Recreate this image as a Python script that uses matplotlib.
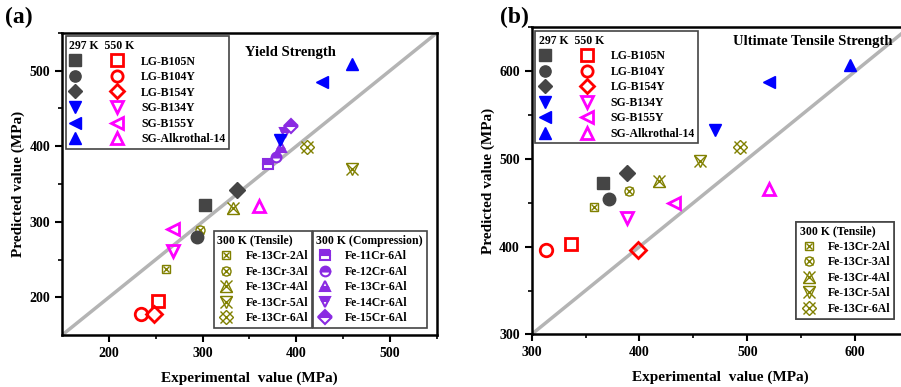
import numpy as np
import matplotlib
matplotlib.use("Agg")
import matplotlib.pyplot as plt
from matplotlib.legend_handler import HandlerTuple

plt.rcParams['font.family'] = 'Liberation Serif'
plt.rcParams['font.weight'] = 'bold'
plt.rcParams['axes.labelweight'] = 'bold'

# ---- data ----
names = ['LG-B105N', 'LG-B104Y', 'LG-B154Y', 'SG-B134Y', 'SG-B155Y', 'SG-Alkrothal-14']
tens_names = ['Fe-13Cr-2Al', 'Fe-13Cr-3Al', 'Fe-13Cr-4Al', 'Fe-13Cr-5Al', 'Fe-13Cr-6Al']
comp_names = ['Fe-11Cr-6Al', 'Fe-12Cr-6Al', 'Fe-13Cr-6Al', 'Fe-14Cr-6Al', 'Fe-15Cr-6Al']

# (a) yield strength
ys_exp_297 = [303, 294, 337, 383, 428, 459]
ys_pred_297 = [322, 280, 342, 408, 485, 509]
ys_exp_550 = [252, 234, 248, 268, 268, 360]
ys_pred_550 = [195, 178, 178, 262, 291, 321]
ys_tens_exp = [261, 297, 333, 460, 411]
ys_tens_pred = [237, 289, 318, 370, 399]
ys_comp_exp = [370, 378, 384, 388, 394]
ys_comp_pred = [377, 386, 399, 418, 427]

# (b) ultimate tensile strength
uts_exp_297 = [366, 372, 388, 470, 520, 595]
uts_pred_297 = [473, 454, 484, 533, 588, 607]
uts_exp_550 = [337, 313, 399, 388, 432, 520]
uts_pred_550 = [403, 396, 396, 433, 450, 466]
uts_tens_exp = [358, 390, 418, 456, 493]
uts_tens_pred = [445, 463, 475, 498, 514]

markers = ['s', 'o', 'D', 'v', '<', '^']
col_297 = ['#454545'] * 3 + ['#0000ff'] * 3
col_550 = ['#ff0000'] * 3 + ['#ff00ff'] * 3
tens_markers = ['s', 'o', '^', 'v', 'D']
tens_ms = [6, 6.5, 9, 9, 7.5]
tens_xms = [5, 5.5, 8, 8, 8]
comp_markers = ['s', 'o', '^', 'v', 'D']
olive = '#808000'
purple = '#8a2be2'

fig = plt.figure(figsize=(9.01, 3.87), dpi=100)
axa = fig.add_axes([0.0688, 0.134, 0.416, 0.781])
axb = fig.add_axes([0.590, 0.136, 0.419, 0.793])

leg_kw = dict(fontsize=8.5, title_fontproperties={'weight': 'bold', 'size': 8.5}, fancybox=False,
              edgecolor='#444444', framealpha=1, labelspacing=0.3, borderpad=0.3,
              borderaxespad=0.3, alignment='left')


def style_axis(ax, lo, hi, ticks):
    ax.set_xlim(lo, hi)
    ax.set_ylim(lo, hi)
    ax.plot([lo, hi], [lo, hi], color='#b4b4b4', lw=2.5, zorder=1)
    ax.set_xticks(ticks)
    ax.set_yticks(ticks)
    ax.set_xticks([v + 50 for v in ticks], minor=True)
    ax.set_yticks([v + 50 for v in ticks], minor=True)
    ax.tick_params(which='major', direction='out', length=5, width=1.5, labelsize=10)
    ax.tick_params(which='minor', direction='out', length=3, width=1.2)
    for s in ax.spines.values():
        s.set_linewidth(1.8)
    ax.set_xlabel('Experimental  value (MPa)', fontsize=11, labelpad=8)
    ax.set_ylabel('Predicted value (MPa)', fontsize=11, labelpad=3)


def draw_main(ax, ex297, pr297, ex550, pr550):
    h = []
    for i in range(len(names)):
        ms = 8 if markers[i] == 'D' else 9
        h1, = ax.plot(ex297[i], pr297[i], ls='none', marker=markers[i], ms=ms,
                      color=col_297[i], zorder=4)
        h2, = ax.plot(ex550[i], pr550[i], ls='none', marker=markers[i], ms=ms,
                      mfc='none', mec=col_550[i], mew=2, zorder=4)
        h.append((h1, h2))
    leg = ax.legend(h, names, handler_map={tuple: HandlerTuple(ndivide=None, pad=2.6)},
                    handlelength=4.6, loc='upper left', title='297 K  550 K', markerscale=0.9,
                    handletextpad=1.5, **leg_kw)
    leg.get_frame().set_linewidth(1.2)
    ax.add_artist(leg)


def draw_tensile(ax, ex, pr, loc, anchor):
    h = []
    for i in range(len(tens_names)):
        o, = ax.plot(ex[i], pr[i], ls='none', marker=tens_markers[i], ms=tens_ms[i],
                     mfc='none', mec=olive, mew=1.0, zorder=3)
        x, = ax.plot(ex[i], pr[i], ls='none', marker='x', ms=tens_xms[i],
                     mec=olive, mew=1.0, zorder=3)
        h.append((o, x))
    leg = ax.legend(h, tens_names, loc=loc, bbox_to_anchor=anchor, title='300 K (Tensile)',
                    handler_map={tuple: HandlerTuple(ndivide=1)}, handlelength=1.5,
                    handletextpad=0.9, numpoints=1, **leg_kw)
    leg.get_frame().set_linewidth(1.2)
    ax.add_artist(leg)


# ---- panel (a) ----
style_axis(axa, 150, 550, [200, 300, 400, 500])
draw_main(axa, ys_exp_297, ys_pred_297, ys_exp_550, ys_pred_550)
draw_tensile(axa, ys_tens_exp, ys_tens_pred, 'lower left', (0.395, 0.012))
hc = []
for i in range(len(comp_names)):
    fs = 'bottom' if comp_markers[i] == '^' else 'top'
    hh, = axa.plot(ys_comp_exp[i], ys_comp_pred[i], ls='none', marker=comp_markers[i], ms=7,
                   color=purple, fillstyle=fs, markerfacecoloralt='white', mew=1.5, zorder=3)
    hc.append(hh)
legc = axa.legend(hc, comp_names, loc='lower left', bbox_to_anchor=(0.66, 0.012),
                  title='300 K (Compression)', numpoints=1, handlelength=1.5,
                  handletextpad=0.9, **leg_kw)
legc.get_frame().set_linewidth(1.2)
axa.text(0.61, 0.935, 'Yield Strength', transform=axa.transAxes, ha='center', va='center', fontsize=10.5)
fig.text(0.005, 0.955, '(a)', fontsize=17, fontweight='bold', va='center')

# ---- panel (b) ----
style_axis(axb, 300, 650, [300, 400, 500, 600])
draw_main(axb, uts_exp_297, uts_pred_297, uts_exp_550, uts_pred_550)
draw_tensile(axb, uts_tens_exp, uts_tens_pred, 'lower right', (0.97, 0.04))
axb.text(0.745, 0.955, 'Ultimate Tensile Strength', transform=axb.transAxes, ha='center', va='center',
         fontsize=10.5)
fig.text(0.555, 0.955, '(b)', fontsize=17, fontweight='bold', va='center')

fig.savefig('out.png', dpi=100)
